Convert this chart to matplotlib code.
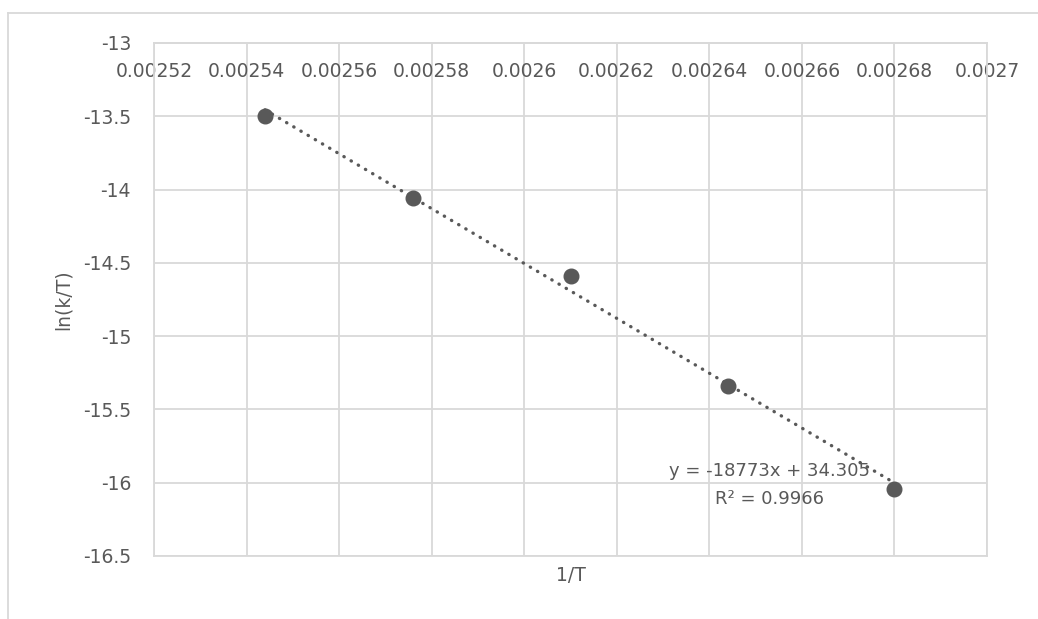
import numpy as np
import matplotlib
matplotlib.use('Agg')
import matplotlib.pyplot as plt
from matplotlib.lines import Line2D
from matplotlib.ticker import FuncFormatter

# data
inv_T = [0.0025440, 0.0025759, 0.0026100, 0.0026440, 0.0026800]
ln_k_over_T = [-13.50, -14.06, -14.59, -15.34, -16.04]
x_ticks = [0.00252, 0.00254, 0.00256, 0.00258, 0.0026, 0.00262, 0.00264, 0.00266, 0.00268, 0.0027]
y_ticks = [-13, -13.5, -14, -14.5, -15, -15.5, -16, -16.5]
eq_text = "y = -18773x + 34.305\nR\u00b2 = 0.9966"

grey = '#595959'
light = '#d9d9d9'

plt.rcParams['font.family'] = 'DejaVu Sans'
plt.rcParams['axes.unicode_minus'] = False

fig = plt.figure(figsize=(10.38, 6.19), dpi=100)
ax = fig.add_axes([154 / 1038, 1 - 556 / 619, 833 / 1038, 513 / 619])

# chart frame (only top and left edges are visible in the crop)
fig.add_artist(Line2D([8 / 1038, 8 / 1038], [1 - 13 / 619, 0], color=light, lw=1.3))
fig.add_artist(Line2D([8 / 1038, 1], [1 - 13 / 619, 1 - 13 / 619], color=light, lw=1.3))

x = np.array(inv_T)
y = np.array(ln_k_over_T)

# linear trendline
slope, intercept = np.polyfit(x, y, 1)
xt = np.array([x.min(), x.max()])
ax.plot(xt, slope * xt + intercept, color=grey, lw=2.4,
        linestyle=(0, (0.1, 2.4)), dash_capstyle='round', zorder=3)
ax.plot(x, y, 'o', color=grey, markersize=10.5, zorder=4)

ax.set_xlim(0.00252, 0.0027)
ax.set_ylim(-16.5, -13)
ax.set_xticks(x_ticks)
ax.set_yticks(y_ticks)
ax.xaxis.set_major_formatter(FuncFormatter(lambda v, p: f"{v:.5f}".rstrip('0')))
ax.yaxis.set_major_formatter(FuncFormatter(lambda v, p: f"{v:g}"))

ax.grid(True, color=light, lw=1.3)
ax.set_axisbelow(True)
for s in ax.spines.values():
    s.set_color(light)
    s.set_linewidth(1.3)
# Excel puts the horizontal axis where y crosses at -13
ax.spines['bottom'].set_position(('data', -13))
ax.axhline(-16.5, color=light, lw=1.3, clip_on=False, zorder=0)
ax.tick_params(length=0, labelsize=13.5, labelcolor=grey)
ax.tick_params(axis='x', pad=14)
ax.tick_params(axis='y', pad=16.5)

ax.set_xlabel('1/T', fontsize=13.5, color=grey)
ax.set_ylabel('ln(k/T)', fontsize=13.5, color=grey)
ax.xaxis.set_label_coords(0.5, -0.02)
ax.yaxis.set_label_coords(-0.098, 0.5)

ax.text(0.002653, -16.015, eq_text, ha='center', va='center', fontsize=13,
        color=grey, linespacing=1.75)

fig.savefig('out.png', dpi=100)
